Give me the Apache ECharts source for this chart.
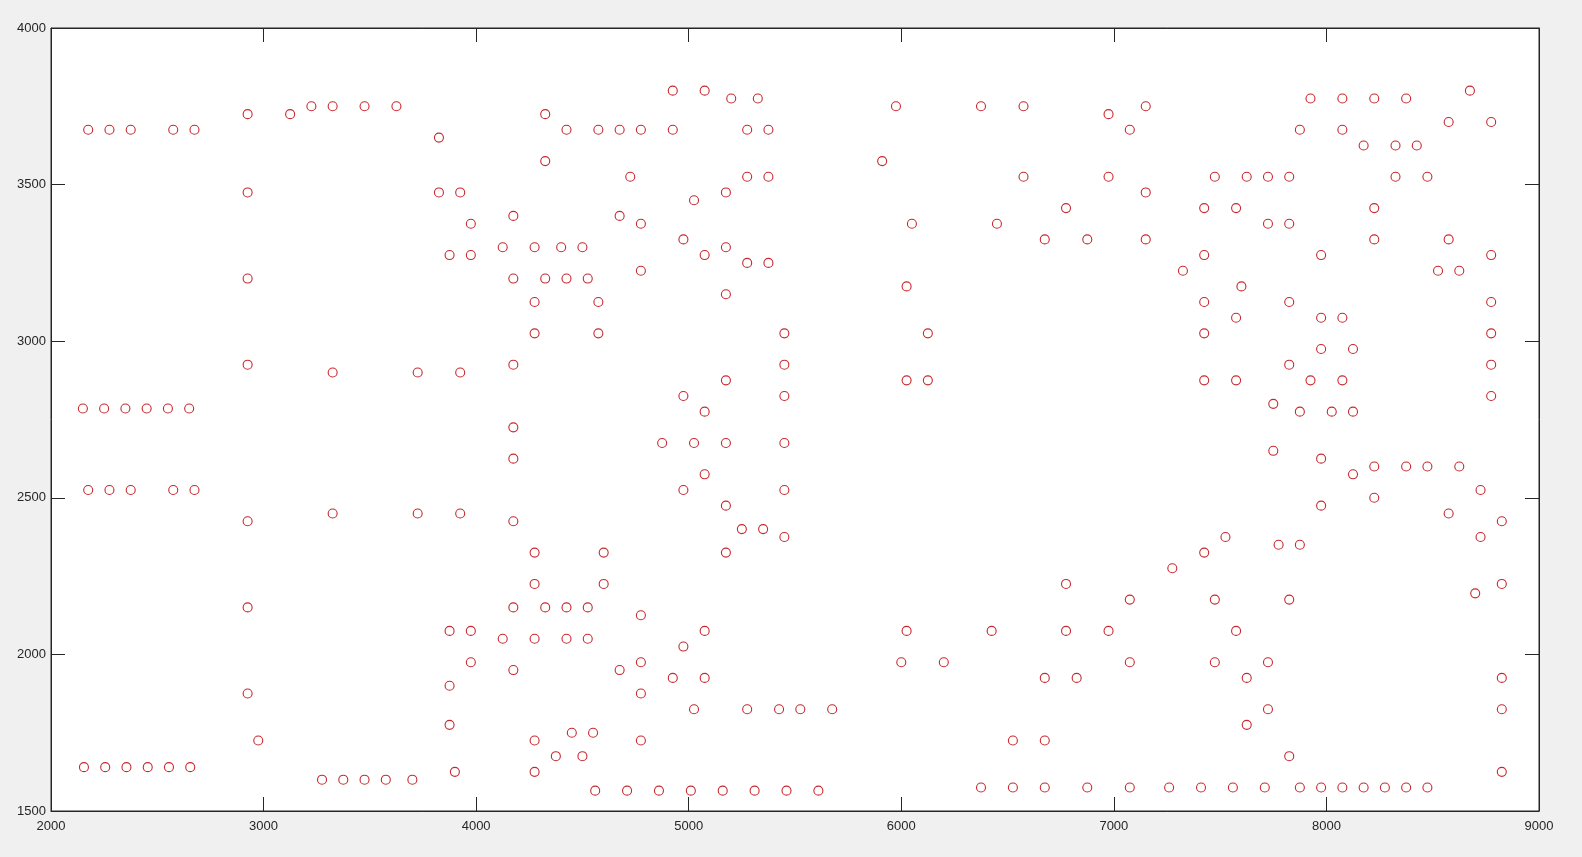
<!DOCTYPE html>
<html>
<head>
<meta charset="utf-8">
<script src="https://cdn.jsdelivr.net/npm/echarts@6/dist/echarts.min.js"></script>
<style>
html,body{margin:0;padding:0;background:#f0f0f0;}
#chart{width:1582px;height:857px;}
</style>
</head>
<body>
<div id="chart"></div>
<script>
// Tick values
const xTicks = [2000, 3000, 4000, 5000, 6000, 7000, 8000, 9000];
const yTicks = [1500, 2000, 2500, 3000, 3500, 4000];

// Point x values
const xs = [
  // left block
  2175,2275,2375,2575,2675,
  2150,2250,2350,2450,2550,2650,
  2175,2275,2375,2575,2675,
  2155,2255,2355,2455,2555,2655,
  2925,2925,2925,2925,2925,2925,2925,2975,
  3125,3225,3325,3475,3625,
  3325,3725,3925,
  3325,3725,3925,
  3275,3375,3475,3575,3700,
  3825,3825,3925,3975,3875,3975,
  3875,3975,3975,3875,3875,3900,
  // 4100-4800
  4325,4325,4175,4125,4275,4400,4500,
  4175,4325,4425,4525,
  4275,4275,4175,4175,4175,4175,
  4275,4275,4175,4325,4425,4525,
  4125,4275,4425,4525,
  4175,4275,4375,4275,4450,4550,4500,
  4425,4575,4675,4775,4725,4675,4775,4775,
  4575,4575,
  4600,4600,4775,4775,4675,4775,4775,
  // 4850-5700
  4925,5075,5200,5325,4925,5275,5375,
  5275,5375,5175,5025,4975,5175,5075,5275,5375,5175,
  5450,5450,5450,5450,5450,5450,
  5175,4975,5075,
  4875,5025,5175,5075,4975,5175,5250,5350,5175,
  5075,4975,4925,5075,
  5025,5275,5425,5525,5675,
  4560,4710,4860,5010,5160,5310,5460,5610,
  // 5900-6900
  5975,6375,6575,5910,6575,6050,6450,6675,
  6025,6125,6025,6125,
  6025,6425,6000,6200,6675,
  6525,6675,6375,6525,6675,
  6775,6875,6775,6775,6825,6875,
  // 6975-7925
  6975,7150,7075,6975,7150,7150,7325,
  6975,7075,7075,7275,7075,7260,7410,7560,7710,7875,
  7425,7575,7475,7625,7725,7825,7725,7825,7875,7925,
  7425,7600,7425,7825,7575,7425,7825,7425,7575,7925,
  7750,7875,7750,
  7525,7425,7775,7875,7475,7825,7575,7475,7725,7625,7725,7625,7825,
  // 7975-8825
  8075,8225,8375,8675,8575,8775,
  8075,8175,8325,8425,8325,8475,8225,8225,8575,
  7975,8775,8525,8625,8775,8775,8775,8775,
  7975,8075,7975,8125,8075,8025,8125,
  7975,8125,8225,8375,8475,8625,8225,7975,8725,8575,8825,8725,
  8825,8700,8825,8825,8825,
  7975,8075,8175,8275,8375,8475
];

// Point y values (same order as xs)
const ys = [
  3675,3675,3675,3675,3675,
  2785,2785,2785,2785,2785,2785,
  2525,2525,2525,2525,2525,
  1640,1640,1640,1640,1640,1640,
  3725,3475,3200,2925,2425,2150,1875,1725,
  3725,3750,3750,3750,3750,
  2900,2900,2900,
  2450,2450,2450,
  1600,1600,1600,1600,1600,
  3650,3475,3475,3375,3275,3275,
  2075,2075,1975,1900,1775,1625,

  3725,3575,3400,3300,3300,3300,3300,
  3200,3200,3200,3200,
  3125,3025,2925,2725,2625,2425,
  2325,2225,2150,2150,2150,2150,
  2050,2050,2050,2050,
  1950,1725,1675,1625,1750,1750,1675,
  3675,3675,3675,3675,3525,3400,3375,3225,
  3125,3025,
  2325,2225,2125,1975,1950,1875,1725,

  3800,3800,3775,3775,3675,3675,3675,
  3525,3525,3475,3450,3325,3300,3275,3250,3250,3150,
  3025,2925,2825,2675,2525,2375,
  2875,2825,2775,
  2675,2675,2675,2575,2525,2475,2400,2400,2325,
  2075,2025,1925,1925,
  1825,1825,1825,1825,1825,
  1565,1565,1565,1565,1565,1565,1565,1565,

  3750,3750,3750,3575,3525,3375,3375,3325,
  3175,3025,2875,2875,
  2075,2075,1975,1975,1925,
  1725,1725,1575,1575,1575,
  3425,3325,2225,2075,1925,1575,

  3725,3750,3675,3525,3475,3325,3225,
  2075,2175,1975,2275,1575,1575,1575,1575,1575,1575,
  3425,3425,3525,3525,3525,3525,3375,3375,3675,3775,
  3275,3175,3125,3125,3075,3025,2925,2875,2875,2875,
  2800,2775,2650,
  2375,2325,2350,2350,2175,2175,2075,1975,1975,1925,1825,1775,1675,

  3775,3775,3775,3800,3700,3700,
  3675,3625,3625,3625,3525,3525,3425,3325,3325,
  3275,3275,3225,3225,3125,3025,2925,2825,
  3075,3075,2975,2975,2875,2775,2775,
  2625,2575,2600,2600,2600,2600,2500,2475,2525,2450,2425,2375,
  2225,2195,1925,1825,1625,
  1575,1575,1575,1575,1575,1575
];

const points = xs.map((x, i) => [x, ys[i]]);

const axisColor = '#262626';
const labelFont = {color: axisColor, fontSize: 13, fontFamily: 'Liberation Sans, Arial, sans-serif'};
const xMin = xTicks[0], xMax = xTicks[xTicks.length - 1], xStep = xTicks[1] - xTicks[0];
const yMin = yTicks[0], yMax = yTicks[yTicks.length - 1], yStep = yTicks[1] - yTicks[0];
const plain = v => String(v);

function xAxisDef(pos, showLabel) {
  return {
    type: 'value', position: pos, min: xMin, max: xMax, interval: xStep,
    axisLine: {show: true, onZero: false, lineStyle: {color: axisColor, width: 1}},
    axisTick: {show: true, inside: true, length: 14, lineStyle: {color: axisColor}},
    axisLabel: Object.assign({show: showLabel, margin: 9, formatter: plain}, labelFont),
    splitLine: {show: false}
  };
}
function yAxisDef(pos, showLabel) {
  return {
    type: 'value', position: pos, min: yMin, max: yMax, interval: yStep,
    axisLine: {show: true, onZero: false, lineStyle: {color: axisColor, width: 1}},
    axisTick: {show: true, inside: true, length: 14, lineStyle: {color: axisColor}},
    axisLabel: Object.assign({show: showLabel, margin: 5, formatter: plain}, labelFont),
    splitLine: {show: false}
  };
}

const chart = echarts.init(document.getElementById('chart'), null, {renderer: 'canvas'});
chart.setOption({
  animation: false,
  backgroundColor: '#f0f0f0',
  grid: {left: 51, right: 43, top: 28, bottom: 46, show: true, backgroundColor: '#ffffff', borderColor: axisColor, borderWidth: 1},
  xAxis: [xAxisDef('bottom', true), xAxisDef('top', false)],
  yAxis: [yAxisDef('left', true), yAxisDef('right', false)],
  series: [{
    type: 'scatter',
    xAxisIndex: 0, yAxisIndex: 0,
    data: points,
    symbol: 'circle',
    symbolSize: 9,
    itemStyle: {color: 'rgba(0,0,0,0)', borderColor: '#c8282d', borderWidth: 1.1, opacity: 1},
    emphasis: {disabled: true}
  }]
});
</script>
</body>
</html>
